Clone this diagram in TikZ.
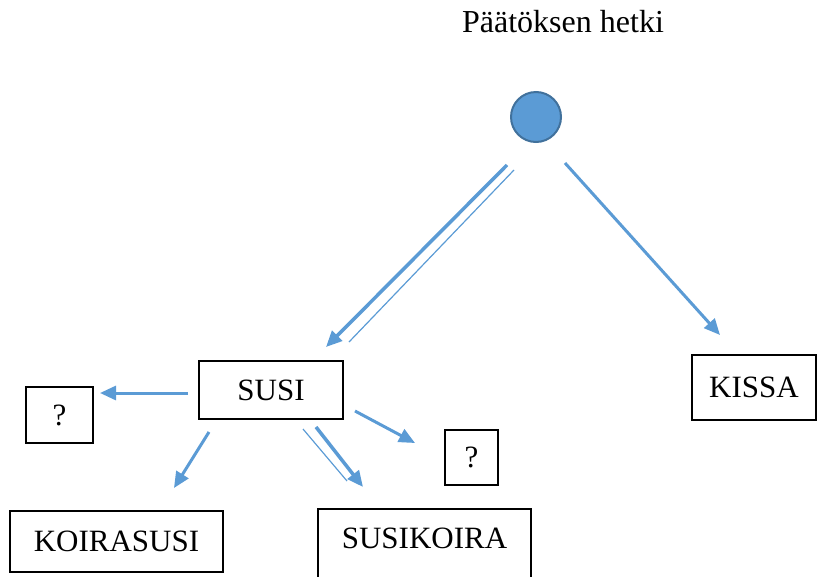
\documentclass[tikz,border=0pt]{standalone}
\usepackage{fontspec}
\setmainfont{Liberation Serif}
\usetikzlibrary{arrows.meta}
\definecolor{arrowblue}{HTML}{5B9BD5}
\definecolor{dotedge}{HTML}{41719C}

\begin{document}
\begin{tikzpicture}[x=1pt, y=-1pt,
    font=\fontsize{31}{37}\selectfont,
    animal/.style ={rectangle, draw, line width=1.2pt, inner sep=0pt, text height=20.5pt, text depth=0pt},
    move/.style ={draw=arrowblue, line width=3pt, -{Triangle[length=16pt,width=14pt]}},
    trace/.style ={draw=arrowblue, line width=1.2pt}]
   \clip (0,0) rectangle (817,576);
   % decision point
   \node[font=\fontsize{32}{38}\selectfont] (T) at (563,22) {Päätöksen hetki};
   \node[circle, fill=arrowblue, draw=dotedge, line width=2pt, minimum size=50pt, inner sep=0pt] (P) at (536,117) {};
   % boxes
   \node[animal, minimum width=144pt, minimum height=58pt] (SUSI) at (271,390) {SUSI};
   \node[animal, minimum width=124pt, minimum height=65pt] (KISSA) at (754,387.5) {KISSA};
   \node[animal, minimum width=67pt, minimum height=56pt] (Q1) at (59.5,415) {?};
   \node[animal, minimum width=53pt, minimum height=55pt] (Q2) at (471.5,457.5) {?};
   \node[animal, minimum width=213pt, minimum height=61pt] (KS) at (116.5,541.5) {KOIRASUSI};
   \node[animal, minimum width=213pt, minimum height=81pt, text depth=22pt] (SK) at (424.5,549.5) {SUSIKOIRA};
   % arrow ends
   \coordinate (a1) at (507,165);   \coordinate (a2) at (326,347);
   \coordinate (b1) at (514,170);   \coordinate (b2) at (349,342);
   \coordinate (c1) at (565,163);   \coordinate (c2) at (720,335);
   \coordinate (d1) at (188,393);   \coordinate (d2) at (100,393);
   \coordinate (e1) at (209,432);   \coordinate (e2) at (174,488);
   \coordinate (f1) at (316,427);   \coordinate (f2) at (363,487);
   \coordinate (g1) at (303,429);   \coordinate (g2) at (347,481);
   \coordinate (h1) at (355,411);   \coordinate (h2) at (415,443);
   % connectors
   \draw[move, line width=3.5pt] (a1) to (a2);
   \draw[trace] (b1) to (b2);
   \draw[move] (c1) to (c2);
   \draw[move] (d1) to (d2);
   \draw[move] (e1) to (e2);
   \draw[move, line width=3.5pt] (f1) to (f2);
   \draw[trace] (g1) to (g2);
   \draw[move] (h1) to (h2);
\end{tikzpicture}
\end{document}
